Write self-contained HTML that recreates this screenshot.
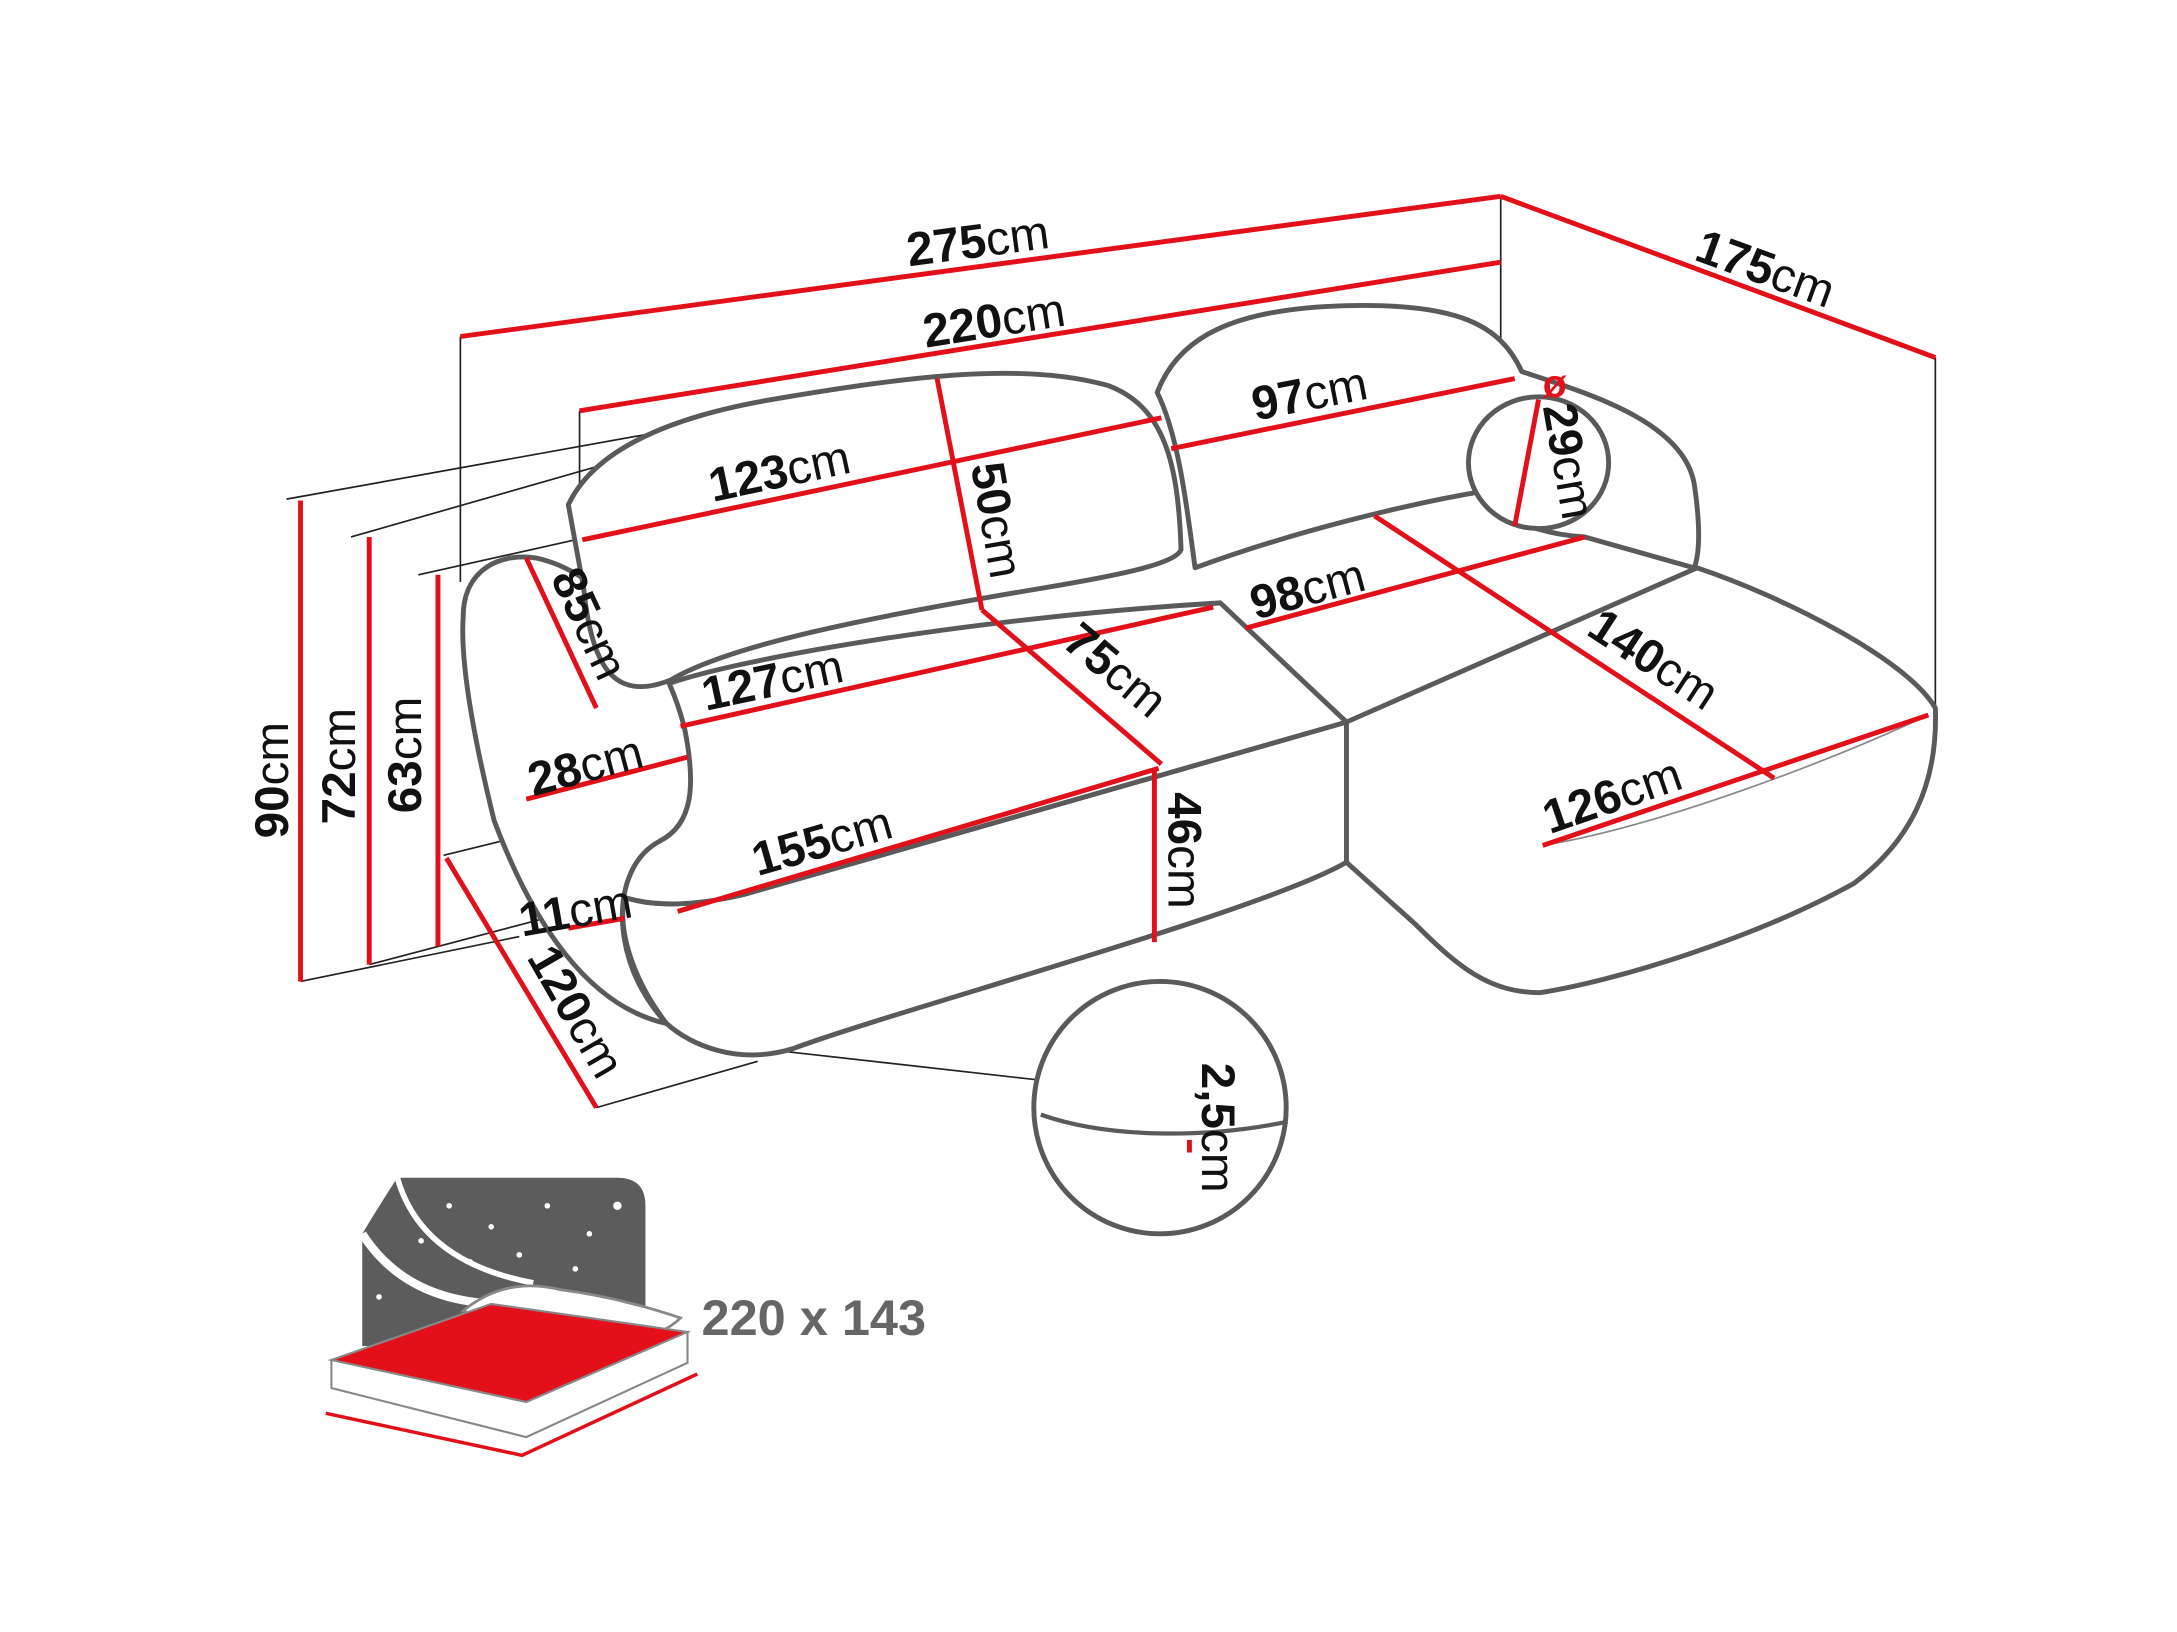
<!DOCTYPE html>
<html><head><meta charset="utf-8"><style>
html,body{margin:0;padding:0;background:#fff;}
svg{display:block;}
text{font-family:"Liberation Sans",sans-serif;font-size:34px;fill:#111;}
.b{font-weight:bold;}
</style></head><body>
<svg width="2177" height="1632" viewBox="0 0 1552 1164" xmlns="http://www.w3.org/2000/svg">
<rect width="1552" height="1164" fill="#fff"/>
<!-- thin extension lines -->
<g stroke="#222" stroke-width="1.2" fill="none">
<line x1="328" y1="240" x2="328" y2="415"/>
<line x1="413" y1="293" x2="413" y2="355"/>
<line x1="1070" y1="140" x2="1070" y2="262"/>
<line x1="1380" y1="255" x2="1380" y2="505"/>
<line x1="204" y1="356" x2="482" y2="306"/>
<line x1="250" y1="383" x2="470" y2="320"/>
<line x1="298" y1="410" x2="410" y2="385"/>
<line x1="214" y1="700" x2="370" y2="668"/>
<line x1="263" y1="688" x2="445" y2="640"/>
<line x1="316" y1="610" x2="365" y2="598"/>
<line x1="425" y1="790" x2="540" y2="757"/>
<line x1="560" y1="750" x2="738" y2="770"/>
</g>
<!-- sofa outlines -->
<g stroke="#5a5a5a" stroke-width="3.5" fill="#fff" stroke-linejoin="round">
<path d="M445,640 C470,648 500,645 530,638 L960,515 L960,615 C900,650 640,720 565,748 C525,760 492,745 475,730 C452,700 440,665 445,640 Z"/>
<path d="M960,515 L1210,405 C1270,425 1360,470 1380,505 C1382,560 1362,600 1322,630 C1250,670 1150,700 1098,708 C1062,708 1040,690 1010,660 L960,615 Z"/>
<path d="M470,490 C520,470 700,440 870,430 L960,515 L530,638 C500,645 470,648 445,640 C440,620 455,605 470,600 Z"/>
<path d="M330,440 C330,405 358,394 382,398 C425,407 472,455 488,520 C496,560 494,588 470,600 C448,612 440,640 445,670 C450,700 466,720 475,730 C420,718 380,660 352,585 C336,520 328,470 330,440 Z"/>
<path d="M405,360 C420,328 462,300 550,285 C650,268 730,258 790,275 C830,290 840,330 842,392 C838,402 800,410 740,420 C620,440 520,460 478,485 C440,500 422,480 416,420 Z"/>
<path d="M825,280 C840,240 880,220 960,218 C1040,216 1070,232 1085,265 C1130,280 1200,300 1208,345 C1214,385 1210,400 1208,405 L1130,383 C1080,380 1050,355 1060,350 C1000,360 920,380 852,405 C846,360 840,310 825,280 Z"/>
<ellipse cx="1097" cy="330" rx="50" ry="47"/>
<circle cx="827" cy="790" r="90"/>
</g>
<path d="M742,795 C790,812 860,812 918,800" stroke="#5a5a5a" stroke-width="3" fill="none"/>
<path d="M1100,603 C1180,590 1300,545 1375,510" stroke="#888" stroke-width="1.2" fill="none"/>
<!-- red dimension lines -->
<g stroke="#e3101a" stroke-width="3.5" fill="none">
<line x1="328" y1="240" x2="1070" y2="140"/>
<line x1="1070" y1="140" x2="1380" y2="255"/>
<line x1="413" y1="293" x2="1070" y2="187"/>
<line x1="835" y1="320" x2="1080" y2="270"/>
<line x1="415" y1="385" x2="828" y2="298"/>
<line x1="668" y1="270" x2="700" y2="435"/>
<line x1="375" y1="398" x2="425" y2="505"/>
<line x1="485" y1="518" x2="865" y2="433"/>
<line x1="700" y1="435" x2="828" y2="545"/>
<line x1="888" y1="448" x2="1130" y2="383"/>
<line x1="980" y1="368" x2="1265" y2="555"/>
<line x1="1100" y1="603" x2="1375" y2="510"/>
<line x1="375" y1="570" x2="490" y2="540"/>
<line x1="483" y1="650" x2="826" y2="548"/>
<line x1="823" y1="550" x2="823" y2="672"/>
<line x1="405" y1="662" x2="445" y2="655"/>
<line x1="318" y1="612" x2="425" y2="790"/>
<line x1="1097" y1="285" x2="1080" y2="375"/>
<line x1="848" y1="813" x2="848" y2="822"/>
<line x1="214" y1="357" x2="214" y2="700"/>
<line x1="263" y1="383" x2="263" y2="688"/>
<line x1="312" y1="410" x2="312" y2="675"/>
</g>
<!-- labels -->
<text transform="translate(648,190) rotate(-7.5)"><tspan class="b">275</tspan>cm</text>
<text transform="translate(1207,185) rotate(20)"><tspan class="b">175</tspan>cm</text>
<text transform="translate(660,248) rotate(-9)"><tspan class="b">220</tspan>cm</text>
<text transform="translate(895,300) rotate(-11)"><tspan class="b">97</tspan>cm</text>
<text transform="translate(508,358) rotate(-12)"><tspan class="b">123</tspan>cm</text>
<text transform="translate(692,332) rotate(80)"><tspan class="b">50</tspan>cm</text>
<text transform="translate(392,412) rotate(65)"><tspan class="b">85</tspan>cm</text>
<text transform="translate(503,507) rotate(-12)"><tspan class="b">127</tspan>cm</text>
<text transform="translate(756,460) rotate(40)"><tspan class="b">75</tspan>cm</text>
<text transform="translate(895,442) rotate(-15)"><tspan class="b">98</tspan>cm</text>
<text transform="translate(1130,452) rotate(33)"><tspan class="b">140</tspan>cm</text>
<text transform="translate(1105,595) rotate(-19)"><tspan class="b">126</tspan>cm</text>
<text transform="translate(380,568) rotate(-15)"><tspan class="b">28</tspan>cm</text>
<text transform="translate(540,625) rotate(-16)"><tspan class="b">155</tspan>cm</text>
<text transform="translate(833,565) rotate(90)"><tspan class="b">46</tspan>cm</text>
<text transform="translate(372,668) rotate(-10)"><tspan class="b">11</tspan>cm</text>
<text transform="translate(375,683) rotate(60)"><tspan class="b">120</tspan>cm</text>
<text transform="translate(1100,290) rotate(80)"><tspan class="b">29</tspan>cm</text>
<text x="1100" y="283" class="b" style="fill:#e3101a;font-size:28px">ø</text>
<text transform="translate(857,758) rotate(90)"><tspan class="b">2,5</tspan>cm</text>
<text transform="translate(205,598) rotate(-90)"><tspan class="b">90</tspan>cm</text>
<text transform="translate(253,588) rotate(-90)"><tspan class="b">72</tspan>cm</text>
<text transform="translate(300,580) rotate(-90)"><tspan class="b">63</tspan>cm</text>
<!-- bed icon -->
<path d="M283,840 L440,840 Q460,840 460,860 L460,960 L258,960 L258,880 Q270,860 283,840 Z" fill="#5c5c5c"/>
<path d="M258,880 Q290,930 360,930" stroke="#fff" stroke-width="6" fill="none"/>
<path d="M283,840 Q300,900 380,915" stroke="#fff" stroke-width="4" fill="none"/>
<g fill="#fff"><circle cx="320" cy="860" r="2"/><circle cx="350" cy="875" r="2"/><circle cx="390" cy="860" r="2"/><circle cx="420" cy="880" r="2"/><circle cx="440" cy="860" r="3"/><circle cx="370" cy="895" r="2"/><circle cx="410" cy="905" r="2"/><circle cx="300" cy="885" r="2"/><circle cx="335" cy="900" r="2"/><circle cx="270" cy="925" r="2"/></g>
<path d="M330,935 Q360,910 400,920 Q440,925 485,940 Q470,955 440,955 Q380,955 330,935 Z" fill="#fff" stroke="#888" stroke-width="2"/>
<path d="M236,970 L350,930 L490,950 L375,1000 Z" fill="#e3101a" stroke="#888" stroke-width="1.5"/>
<path d="M236,970 L236,990 L375,1025 L490,972 L490,950 L375,1000 Z" fill="#fff" stroke="#888" stroke-width="1.5"/>
<path d="M232,1008 L372,1038 L497,980" stroke="#e3101a" stroke-width="2.5" fill="none"/>
<text x="500" y="952" class="b" style="fill:#666;font-size:36px">220 x 143</text>
</svg>
</body></html>
